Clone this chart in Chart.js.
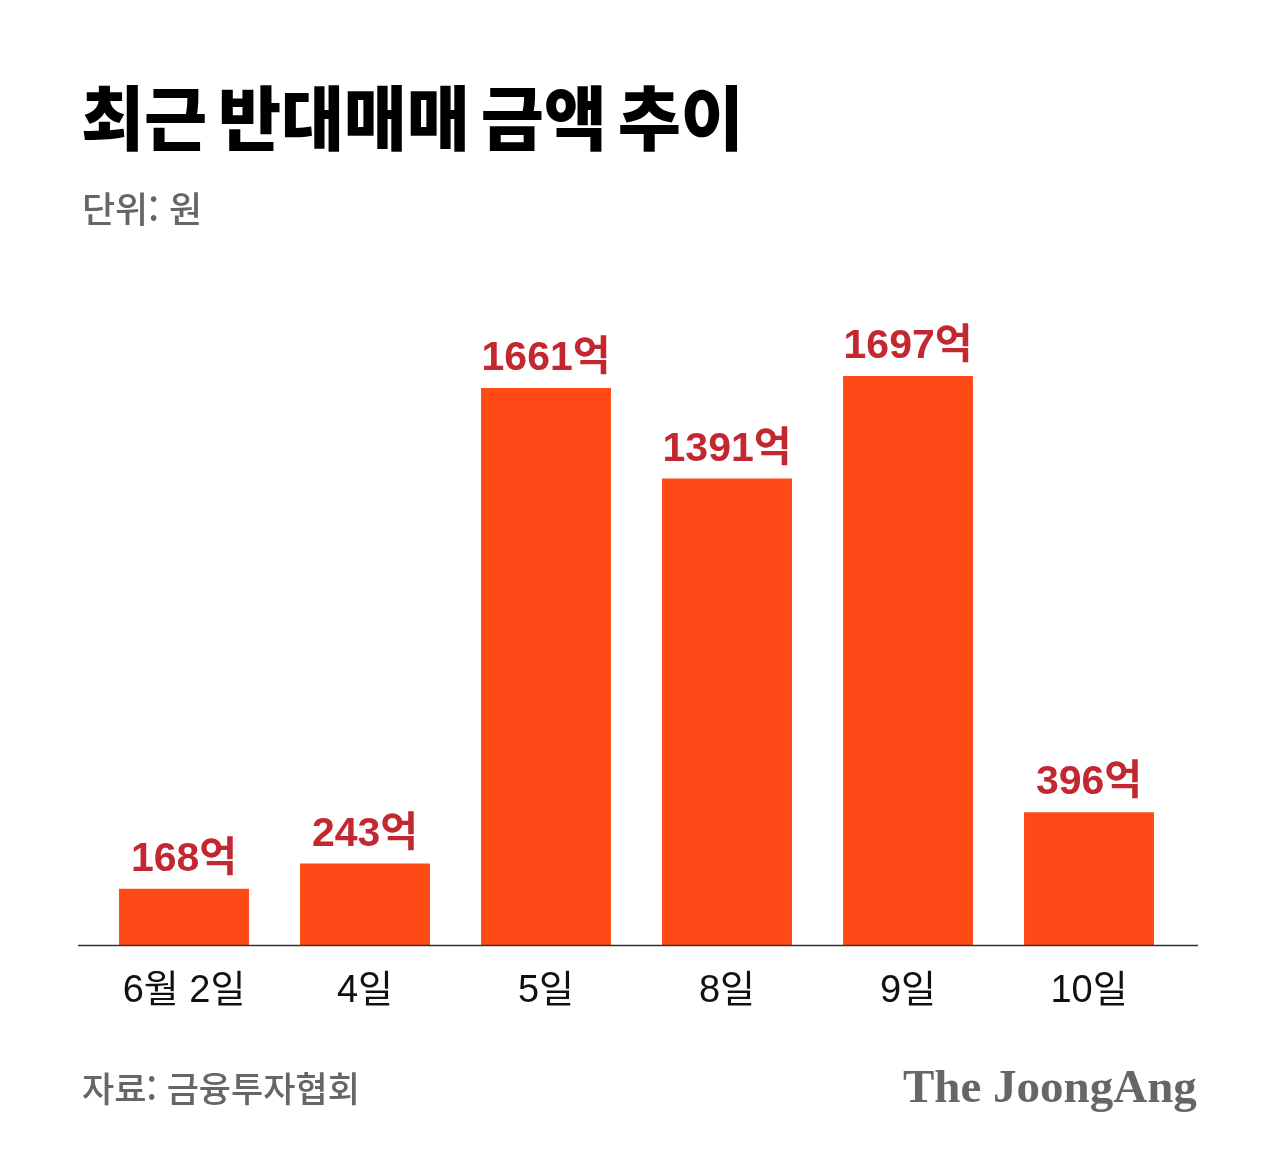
<!DOCTYPE html>
<html lang="ko">
<head>
<meta charset="utf-8">
<script src="https://cdn.jsdelivr.net/npm/chart.js@4.4.1/dist/chart.umd.min.js"></script>
<style>
  html, body { margin: 0; padding: 0; background: #fff; }
  body { width: 1282px; height: 1173px; position: relative; overflow: hidden; }
  #chart { position: absolute; left: 0; top: 0; }
  .txt { position: absolute; white-space: nowrap; line-height: 1; }
  #title { left: 81px; top: 80px; font-family: "Noto Sans CJK KR", sans-serif; font-weight: 900; font-size: 70px; color: #000; transform: scaleX(0.98); transform-origin: left top; word-spacing: -8px; letter-spacing: -0.2px; }
  #unit { left: 82px; top: 189px; font-family: "Noto Sans CJK KR", sans-serif; font-weight: 500; font-size: 36px; color: #666; }
  #source { left: 82px; top: 1069px; font-family: "Noto Sans CJK KR", sans-serif; font-weight: 500; font-size: 35px; color: #666; }
  #logo { left: 903px; top: 1063px; font-family: "Liberation Serif", "DejaVu Serif", serif; font-weight: 700; font-size: 47px; color: #666; }
</style>
</head>
<body>
<canvas id="chart" width="1282" height="1173"></canvas>
<div class="txt" id="title">최근 반대매매 금액 추이</div>
<div class="txt" id="unit">단위: 원</div>
<div class="txt" id="source">자료: 금융투자협회</div>
<div class="txt" id="logo">The JoongAng</div>
<script>
const categories = ["6월 2일", "4일", "5일", "8일", "9일", "10일"];
const values = [168, 243, 1661, 1391, 1697, 396];
const valueSuffix = "억";
const yMax = 1800;

const barColor = "#FF4A17";
const labelColor = "#C3272F";

const baselinePlugin = {
  id: "baseline",
  afterDatasetsDraw(chart) {
    const ctx = chart.ctx;
    const y = chart.scales.y.getPixelForValue(0);
    ctx.save();
    ctx.strokeStyle = "#333";
    ctx.lineWidth = 1.5;
    ctx.beginPath();
    ctx.moveTo(78, y + 0.5);
    ctx.lineTo(1198, y + 0.5);
    ctx.stroke();
    ctx.restore();
  }
};

const valueLabelPlugin = {
  id: "valueLabels",
  afterDatasetsDraw(chart) {
    const ctx = chart.ctx;
    const meta = chart.getDatasetMeta(0);
    ctx.save();
    ctx.fillStyle = labelColor;
    ctx.font = "bold 41px 'Liberation Sans', 'Noto Sans CJK KR', sans-serif";
    ctx.textAlign = "center";
    ctx.textBaseline = "alphabetic";
    meta.data.forEach((bar, i) => {
      ctx.fillText(values[i] + valueSuffix, bar.x, bar.y - 18);
    });
    ctx.restore();
  }
};

new Chart(document.getElementById("chart"), {
  type: "bar",
  data: {
    labels: categories,
    datasets: [{
      data: values,
      backgroundColor: barColor,
      borderWidth: 0,
      categoryPercentage: 1,
      barPercentage: 0.718
    }]
  },
  options: {
    responsive: false,
    animation: false,
    devicePixelRatio: 1,
    layout: { padding: { left: 93.5, right: 102.5, top: 341.4, bottom: 0 } },
    plugins: { legend: { display: false }, tooltip: { enabled: false }, title: { display: false } },
    scales: {
      x: {
        grid: { display: false, drawTicks: false },
        border: { display: false },
        ticks: {
          color: "#111",
          padding: 24,
          font: { family: "'Liberation Sans', 'Noto Sans CJK KR', sans-serif", size: 38 }
        },
        afterFit(scale) { scale.height = 228; }
      },
      y: {
        display: false,
        min: 0,
        max: yMax
      }
    }
  },
  plugins: [baselinePlugin, valueLabelPlugin]
});
</script>
</body>
</html>
